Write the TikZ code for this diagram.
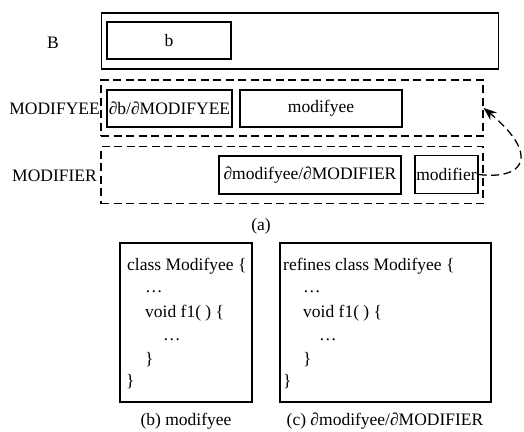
\documentclass[tikz,border=0pt]{standalone}
\usepackage{fontspec}
\setmainfont{Liberation Serif}
\usepackage{tikz}
\usetikzlibrary{arrows.meta,positioning}

\newcommand{\fsz}{\fontsize{17.5}{21}\selectfont}

\tikzset{
  box/.style={draw,line width=1.3pt,inner sep=0pt,font=\fsz},
  layer/.style={box,dash pattern=on 8pt off 4.5pt},
  codebox/.style={draw,line width=2.2pt,inner sep=0pt},
  code/.style={anchor=base west,inner sep=0pt,font=\fsz},
  lbl/.style={inner sep=0pt,font=\fsz}
}

\begin{document}
\begin{tikzpicture}[x=1pt,y=-1pt,>={Stealth[length=13pt,width=10pt]}]
  \useasboundingbox (0,0) rectangle (524,431);

  % (a) layers
  \node[box,minimum width=397,minimum height=56] (bouter) at (300,41) {};
  \node[box,minimum width=124,minimum height=37] (bin) at (169,40.5) {b};
  \node[lbl] (blbl) at (53,43) {B};

  \node[layer,minimum width=382,minimum height=56] (mfyee) at (292,108) {};
  \node[box,minimum width=125,minimum height=37] (db) at (169.5,108.5) {∂b/∂MODIFYEE};
  \node[box,minimum width=162,minimum height=37] (myee) at (321,108.5) {modifyee};
  \node[lbl,anchor=east] (mfyeelbl) at (100,109) {MODIFYEE};

  \node[layer,minimum width=382,minimum height=57] (mfier) at (292,175) {};
  \node[box,minimum width=182,minimum height=38] (dmod) at (310,175) {∂modifyee/∂MODIFIER};
  \node[box,minimum width=63,minimum height=38] (mod) at (446.5,174.5) {modifier};
  \node[lbl,anchor=east] (mfierlbl) at (97,176) {MODIFIER};

  \draw[->,line width=1.3pt,dash pattern=on 8pt off 4.5pt]
    (mod.east) .. controls (525,180) and (540,155) .. (mfyee.east);

  \node[lbl] (capa) at (261,226) {(a)};

  % (b) and (c) code
  \node[codebox,minimum width=132,minimum height=159] (codeb) at (186,322.5) {};
  \node[codebox,minimum width=211,minimum height=159] (codec) at (385.5,322.5) {};

  \foreach \n/\x/\y/\t in {1/127/270/{class Modifyee \{},2/145/292/{\ldots},
      3/145/317/{void f1( ) \{},4/163/340/{\ldots},5/145/364/{\}},6/126/386/{\}}}
    \node[code] (lb\n) at (\x,\y) {\t};

  \foreach \n/\x/\y/\t in {1/283/270/{refines class Modifyee \{},2/303/292/{\ldots},
      3/303/317/{void f1( ) \{},4/319/340/{\ldots},5/303/364/{\}},6/283/386/{\}}}
    \node[code] (lc\n) at (\x,\y) {\t};

  \node[lbl] (capb) at (186,421) {(b) modifyee};
  \node[lbl] (capc) at (385,421) {(c) ∂modifyee/∂MODIFIER};
\end{tikzpicture}
\end{document}
